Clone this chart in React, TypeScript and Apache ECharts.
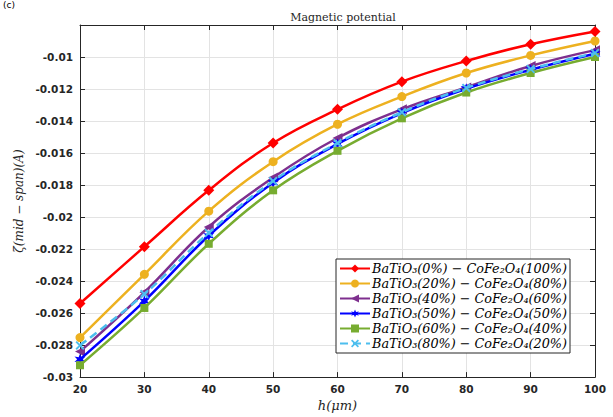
import React, { useEffect, useRef } from "react";
import * as echarts from "echarts";

const hValues = [20, 30, 40, 50, 60, 70, 80, 90, 100];

const seriesNames = [
  "BaTiO₃(0%) − CoFe₂O₄(100%)",
  "BaTiO₃(20%) − CoFe₂O₄(80%)",
  "BaTiO₃(40%) − CoFe₂O₄(60%)",
  "BaTiO₃(50%) − CoFe₂O₄(50%)",
  "BaTiO₃(60%) − CoFe₂O₄(40%)",
  "BaTiO₃(80%) − CoFe₂O₄(20%)",
];

const bt0 = [-0.0254, -0.02185, -0.01833, -0.01537, -0.01327, -0.01154, -0.01025, -0.0092, -0.0084];
const bt20 = [-0.02753, -0.02358, -0.01963, -0.01654, -0.0142, -0.01247, -0.011, -0.0099, -0.009];
const bt40 = [-0.0284, -0.0247, -0.02062, -0.01753, -0.01506, -0.01327, -0.0119, -0.01056, -0.00957];
const bt50 = [-0.02889, -0.02525, -0.02117, -0.01785, -0.01543, -0.0135, -0.01198, -0.0108, -0.0098];
const bt60 = [-0.02926, -0.02568, -0.02167, -0.01833, -0.01586, -0.01383, -0.01222, -0.011, -0.01];
const bt80 = [-0.02802, -0.02481, -0.02099, -0.01775, -0.01538, -0.01345, -0.01193, -0.01075, -0.00975];

const colors = ["#FF0000", "#EDB120", "#7E2F8E", "#0000FF", "#77AC30", "#4DBEEE"];

const STAR =
  "path://M50,0 L61,31 L93,25 L72,50 L93,75 L61,69 L50,100 L39,69 L7,75 L28,50 L7,25 L39,31 Z";
const XMARK =
  "path://M15,0 L50,35 L85,0 L100,15 L65,50 L100,85 L85,100 L50,65 L15,100 L0,85 L35,50 L0,15 Z";

export default function App() {
  const ref = useRef<HTMLDivElement>(null);
  useEffect(() => {
    if (!ref.current) return;
    const chart = echarts.init(ref.current, null, { renderer: "svg" });
    const dataSets = [bt0, bt20, bt40, bt50, bt60, bt80];
    const symbols = ["diamond", "circle", "triangle", STAR, "rect", XMARK];
    const sizes = [11, 9, 10, 11, 8, 9];
    const rotates = [0, 0, 90, 0, 0, 0];
    const series = dataSets.map((d, i) => ({
      name: seriesNames[i],
      type: "line",
      smooth: 0.4,
      data: hValues.map((h, j) => [h, d[j]]),
      symbol: symbols[i],
      symbolSize: sizes[i],
      symbolRotate: rotates[i],
      showAllSymbol: true,
      lineStyle: { color: colors[i], width: 2.5, type: i === 5 ? [8, 5] : "solid" },
      itemStyle: { color: colors[i], borderWidth: 0 },
      z: 2 + i,
    }));
    const axisLine = { show: true, lineStyle: { color: "#262626", width: 1 } };
    const serif = "DejaVu Serif";
    chart.setOption({
      animation: false,
      backgroundColor: "#ffffff",
      title: {
        text: "Magnetic potential",
        left: 338,
        textAlign: "center",
        top: 7,
        textStyle: { fontFamily: serif, fontSize: 11, fontWeight: "normal", color: "#262626" },
      },
      graphic: [
        {
          type: "text",
          left: 3,
          top: 0,
          style: { text: "(c)", font: "9px 'DejaVu Sans'", fill: "#000" },
        },
      ],
      grid: { left: 80, right: 18, top: 25, bottom: 36 },
      legend: {
        orient: "vertical",
        right: 43,
        top: 259,
        itemGap: 0,
        itemWidth: 30,
        itemHeight: 10,
        padding: [2, 3, 2, 3],
        backgroundColor: "#ffffff",
        borderColor: "#262626",
        borderWidth: 1,
        borderRadius: 0,
        data: seriesNames,
        textStyle: {
          fontFamily: serif,
          fontStyle: "italic",
          fontSize: 12.8,
          lineHeight: 15,
          color: "#000",
          padding: [0, 0, 0, -3],
        },
      },
      xAxis: [
        {
          type: "value",
          min: 20,
          max: 100,
          interval: 10,
          name: "h(μm)",
          nameLocation: "middle",
          nameGap: 21,
          nameTextStyle: { fontFamily: serif, fontStyle: "italic", fontSize: 13, color: "#262626" },
          axisLine,
          axisTick: { show: true, inside: true, length: 5, lineStyle: { color: "#262626" } },
          axisLabel: { fontFamily: "DejaVu Sans", fontWeight: "bold", fontSize: 10.5, color: "#262626", margin: 6 },
          splitLine: { show: true, lineStyle: { color: "#e3e3e3", width: 1 } },
        },
        {
          type: "value",
          position: "top",
          min: 20,
          max: 100,
          interval: 10,
          axisLine,
          axisTick: { show: true, inside: true, length: 5, lineStyle: { color: "#262626" } },
          axisLabel: { show: false },
          splitLine: { show: false },
        },
      ],
      yAxis: [
        {
          type: "value",
          min: -0.03,
          max: -0.008,
          interval: 0.002,
          name: "ζ(mid − span)(A)",
          nameLocation: "middle",
          nameGap: 55,
          nameTextStyle: { fontFamily: serif, fontStyle: "italic", fontSize: 12, color: "#262626" },
          axisLine,
          axisTick: { show: true, inside: true, length: 5, lineStyle: { color: "#262626" } },
          axisLabel: {
            fontFamily: "DejaVu Sans",
            fontWeight: "bold",
            fontSize: 10.5,
            color: "#262626",
            margin: 7,
            formatter: (v: number) => (v > -0.0085 ? "" : String(+v.toFixed(3))),
          },
          splitLine: { show: true, lineStyle: { color: "#e3e3e3", width: 1 } },
        },
        {
          type: "value",
          position: "right",
          min: -0.03,
          max: -0.008,
          interval: 0.002,
          axisLine,
          axisTick: { show: true, inside: true, length: 5, lineStyle: { color: "#262626" } },
          axisLabel: { show: false },
          splitLine: { show: false },
        },
      ],
      series,
    });
    return () => chart.dispose();
  }, []);
  return (
    <div
      ref={ref}
      style={{ position: "fixed", left: 0, top: 0, width: 613, height: 417 }}
    />
  );
}
